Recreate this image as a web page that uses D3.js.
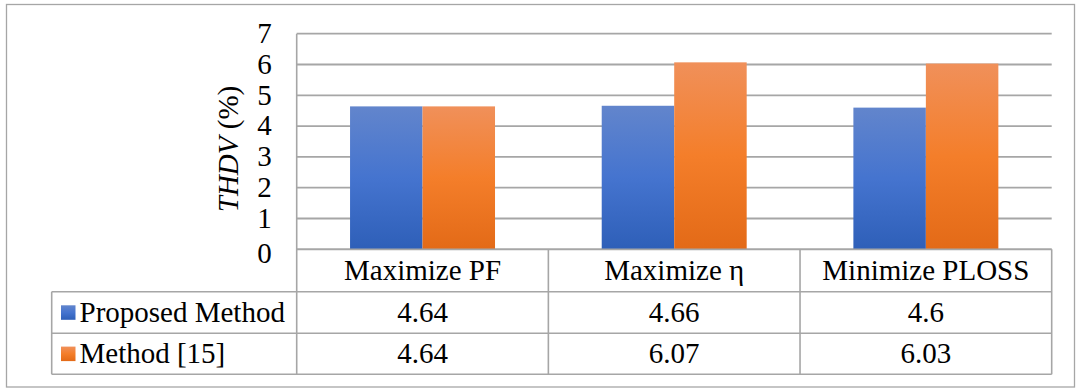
<!DOCTYPE html>
<html>
<head>
<meta charset="utf-8">
<script src="https://cdn.jsdelivr.net/npm/d3@7"></script>
</head>
<body style="margin:0">
<script>
// THDV comparison for the three optimisation objectives
const categories = ["Maximize PF", "Maximize \u03b7", "Minimize PLOSS"];
const seriesNames = ["Proposed Method", "Method [15]"];
const proposedValues = [4.64, 4.66, 4.6];
const method15Values = [4.64, 6.07, 6.03];
const yTicks = [0, 1, 2, 3, 4, 5, 6, 7];

const seriesValues = [proposedValues, method15Values];

const W = 1076, H = 390;
const plot = { left: 296.7, right: 1051.7, top: 33.7, bottom: 249.3 };
const tableLeft = 51.7;
const rowEdges = [249.3, 291.7, 333.3, 374.3];
const fontPx = "29px";
const lineColor = "#a6a6a6";

const svg = d3.select("body").append("svg")
  .attr("width", W).attr("height", H)
  .style("display", "block");

const txt = sel => sel
  .style("font-family", '"Liberation Serif"')
  .style("font-size", fontPx)
  .attr("fill", "#000");

// bar gradients
const defs = svg.append("defs");
const gradients = [
  { id: "gBlue", stops: ["#6285cc", "#4574cf", "#2e5fb8"] },
  { id: "gOrange", stops: ["#f0905a", "#f47e2a", "#e36a17"] }
];
gradients.forEach(g => {
  const lg = defs.append("linearGradient").attr("id", g.id)
    .attr("x1", 0).attr("y1", 0).attr("x2", 0).attr("y2", 1);
  g.stops.forEach((c, i) => lg.append("stop")
    .attr("offset", `${i * 50}%`).attr("stop-color", c));
});

// outer frame
svg.append("rect")
  .attr("x", 6.5).attr("y", 4.5)
  .attr("width", 1068).attr("height", 382.5)
  .attr("fill", "none").attr("stroke", lineColor).attr("stroke-width", 1.3);

const x = d3.scaleBand().domain(categories).range([plot.left, plot.right]).padding(0);
const xs = d3.scaleBand().domain(seriesNames).range([0, x.bandwidth()])
  .paddingInner(0).paddingOuter(0.736);
const y = d3.scaleLinear().domain([0, 7]).range([plot.bottom, plot.top]);

// gridlines
svg.append("g").selectAll("line").data(yTicks).join("line")
  .attr("x1", plot.left).attr("x2", plot.right)
  .attr("y1", d => y(d)).attr("y2", d => y(d))
  .attr("stroke", lineColor).attr("stroke-width", 1.8);

// y axis labels
const yAxis = svg.append("g")
  .attr("transform", `translate(${plot.left - 25},0)`)
  .call(d3.axisLeft(y).tickValues(yTicks).tickSize(0).tickPadding(0).tickFormat(d3.format("d")));
yAxis.call(txt);
yAxis.select(".domain").remove();
yAxis.selectAll("text")
  .call(txt)
  .attr("dy", d => d === 0 ? "0.45em" : "0.3em");

// y axis title
svg.append("text")
  .attr("transform", `translate(237.5,149) rotate(-90)`)
  .attr("text-anchor", "middle")
  .call(txt)
  .call(t => {
    t.append("tspan").style("font-style", "italic").text("THDV");
    t.append("tspan").text(" (%)");
  });

// bars
const barGroups = svg.append("g").selectAll("g").data(categories).join("g")
  .attr("transform", d => `translate(${x(d)},0)`);
barGroups.selectAll("rect")
  .data((c, ci) => seriesNames.map((s, si) => ({ s, si, v: seriesValues[si][ci] })))
  .join("rect")
  .attr("x", d => xs(d.s))
  .attr("width", xs.bandwidth())
  .attr("y", d => y(d.v))
  .attr("height", d => y(0) - y(d.v))
  .attr("fill", d => `url(#${gradients[d.si].id})`);

// data table
const table = svg.append("g")
  .attr("stroke", lineColor).attr("stroke-width", 1.6).attr("fill", "none");
// left axis line
table.append("line")
  .attr("x1", plot.left).attr("x2", plot.left)
  .attr("y1", plot.top).attr("y2", rowEdges[3]);
// horizontal rules
rowEdges.forEach((ry, i) => {
  table.append("line")
    .attr("x1", i === 0 ? plot.left : tableLeft).attr("x2", plot.right)
    .attr("y1", ry).attr("y2", ry);
});
// category dividers
categories.forEach(c => {
  table.append("line")
    .attr("x1", x(c) + x.bandwidth()).attr("x2", x(c) + x.bandwidth())
    .attr("y1", rowEdges[0]).attr("y2", rowEdges[3]);
});
// legend column left edge
table.append("line")
  .attr("x1", tableLeft).attr("x2", tableLeft)
  .attr("y1", rowEdges[1]).attr("y2", rowEdges[3]);

const rowMid = i => (rowEdges[i] + rowEdges[i + 1]) / 2;

// category labels
svg.append("g").selectAll("text").data(categories).join("text")
  .attr("x", d => x(d) + x.bandwidth() / 2)
  .attr("y", rowMid(0) + 9.5)
  .attr("text-anchor", "middle")
  .call(txt)
  .text(d => d);

// series rows
seriesNames.forEach((s, si) => {
  const my = rowMid(si + 1);
  svg.append("rect")
    .attr("x", 61).attr("y", my - 7.2)
    .attr("width", 14.5).attr("height", 14.5)
    .attr("fill", `url(#${gradients[si].id})`);
  svg.append("text")
    .attr("x", 79.5).attr("y", my + 9.5)
    .call(txt)
    .text(s);
  svg.append("g").selectAll("text").data(seriesValues[si]).join("text")
    .attr("x", (d, ci) => x(categories[ci]) + x.bandwidth() / 2)
    .attr("y", my + 9.5)
    .attr("text-anchor", "middle")
    .call(txt)
    .text(d => String(d));
});
</script>
</body>
</html>
